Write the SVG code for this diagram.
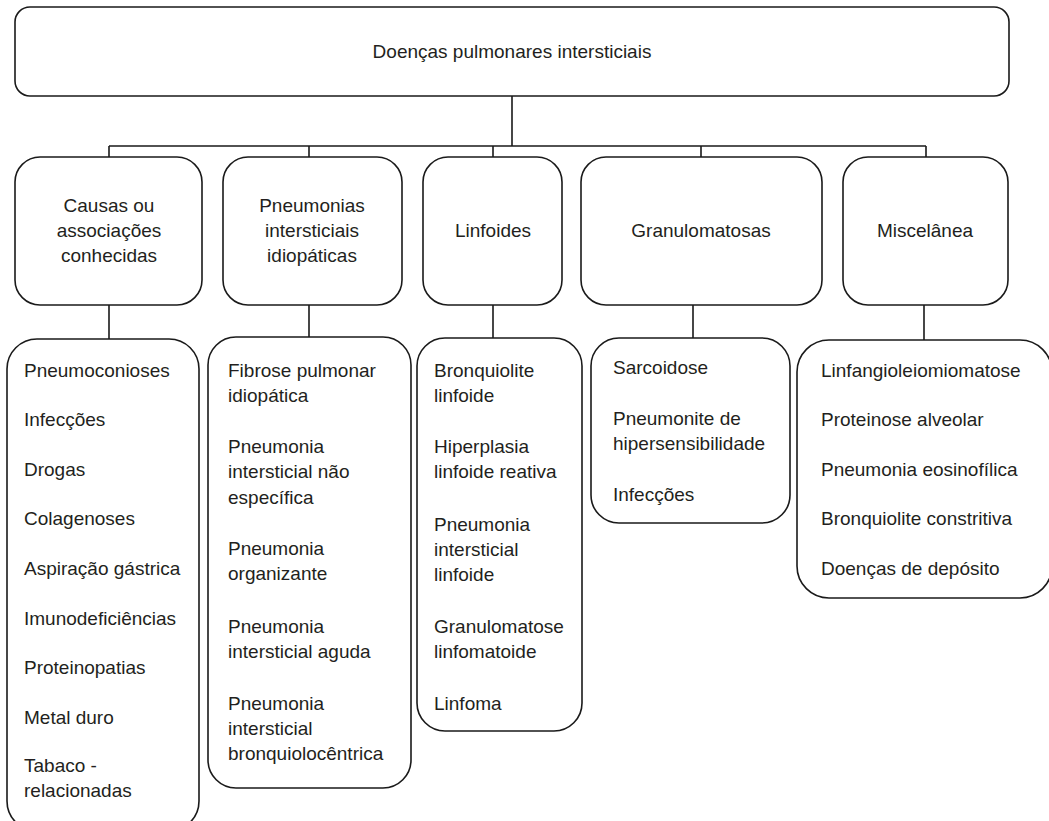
<svg xmlns="http://www.w3.org/2000/svg" width="1049" height="821" viewBox="0 0 1049 821">
<style>
.box{fill:#fff;stroke:#1a1a1a;stroke-width:1.6}
.ln{fill:none;stroke:#1a1a1a;stroke-width:1.6}
text{font-family:"Liberation Sans",Arial,sans-serif;font-size:19px;fill:#231f20}
.c{text-anchor:middle}
</style>
<rect width="1049" height="821" fill="#fff"/>
<g id="connectors">
<path class="ln" d="M512 96V146M109 146H926M109 146V157M309 146V157M493 146V157M701 146V157M926 146V157"/>
<path class="ln" d="M109 305V339M309 305V337M493 305V338M693 305V338M924 305V340"/>
</g>
<g id="root">
<rect class="box" x="15" y="7" width="994" height="89" rx="15"/>
<text class="c" x="512" y="58">Doenças pulmonares intersticiais</text>
</g>
<g id="causas">
<rect class="box" x="15" y="157" width="187" height="148" rx="25"/>
<text class="c" x="109" y="212">Causas ou</text>
<text class="c" x="109" y="237">associações</text>
<text class="c" x="109" y="262">conhecidas</text>
</g>
<g id="pneumonias">
<rect class="box" x="223" y="157" width="179" height="148" rx="25"/>
<text class="c" x="312" y="212">Pneumonias</text>
<text class="c" x="312" y="237">intersticiais</text>
<text class="c" x="312" y="262">idiopáticas</text>
</g>
<g id="linfoides">
<rect class="box" x="423" y="157" width="139" height="148" rx="25"/>
<text class="c" x="493" y="237">Linfoides</text>
</g>
<g id="granulomatosas">
<rect class="box" x="581" y="157" width="241" height="148" rx="25"/>
<text class="c" x="701" y="237">Granulomatosas</text>
</g>
<g id="miscelanea">
<rect class="box" x="843" y="157" width="165" height="148" rx="25"/>
<text class="c" x="925" y="237">Miscelânea</text>
</g>
<g id="causas-list">
<rect class="box" x="7" y="339" width="192" height="492" rx="30"/>
<text x="24" y="377">Pneumoconioses</text>
<text x="24" y="426">Infecções</text>
<text x="24" y="476">Drogas</text>
<text x="24" y="525">Colagenoses</text>
<text x="24" y="575">Aspiração gástrica</text>
<text x="24" y="625">Imunodeficiências</text>
<text x="24" y="674">Proteinopatias</text>
<text x="24" y="724">Metal duro</text>
<text x="24" y="772">Tabaco -</text>
<text x="24" y="797">relacionadas</text>
</g>
<g id="pneumonias-list">
<rect class="box" x="208" y="337" width="203" height="451" rx="28"/>
<text x="228" y="377">Fibrose pulmonar</text>
<text x="228" y="402">idiopática</text>
<text x="228" y="453">Pneumonia</text>
<text x="228" y="478">intersticial não</text>
<text x="228" y="504">específica</text>
<text x="228" y="555">Pneumonia</text>
<text x="228" y="580">organizante</text>
<text x="228" y="633">Pneumonia</text>
<text x="228" y="658">intersticial aguda</text>
<text x="228" y="710">Pneumonia</text>
<text x="228" y="735">intersticial</text>
<text x="228" y="760">bronquiolocêntrica</text>
</g>
<g id="linfoides-list">
<rect class="box" x="417" y="338" width="165" height="393" rx="28"/>
<text x="434" y="377">Bronquiolite</text>
<text x="434" y="402">linfoide</text>
<text x="434" y="453">Hiperplasia</text>
<text x="434" y="478">linfoide reativa</text>
<text x="434" y="531">Pneumonia</text>
<text x="434" y="556">intersticial</text>
<text x="434" y="581">linfoide</text>
<text x="434" y="633">Granulomatose</text>
<text x="434" y="658">linfomatoide</text>
<text x="434" y="710">Linfoma</text>
</g>
<g id="granulomatosas-list">
<rect class="box" x="591" y="338" width="199" height="185" rx="28"/>
<text x="613" y="374">Sarcoidose</text>
<text x="613" y="425">Pneumonite de</text>
<text x="613" y="450">hipersensibilidade</text>
<text x="613" y="501">Infecções</text>
</g>
<g id="miscelanea-list">
<rect class="box" x="797" y="340" width="255" height="258" rx="32"/>
<text x="821" y="377">Linfangioleiomiomatose</text>
<text x="821" y="426">Proteinose alveolar</text>
<text x="821" y="476">Pneumonia eosinofílica</text>
<text x="821" y="525">Bronquiolite constritiva</text>
<text x="821" y="575">Doenças de depósito</text>
</g>
</svg>
